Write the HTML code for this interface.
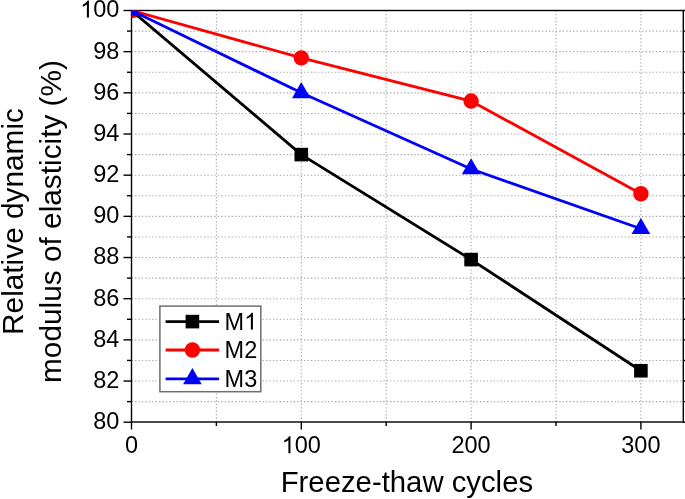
<!DOCTYPE html>
<html><head><meta charset="utf-8"><title>Chart</title>
<style>html,body{margin:0;padding:0;background:#fff;width:685px;height:499px;overflow:hidden}svg{display:block;will-change:transform}text{font-family:"Liberation Sans",sans-serif}</style>
</head><body>
<svg width="685" height="499" viewBox="0 0 685 499" font-family="'Liberation Sans', sans-serif" fill="#000">
<defs><clipPath id="pa"><rect x="131.5" y="10.5" width="551.8" height="411.5"/></clipPath></defs>
<rect width="685" height="499" fill="#fff"/>
<g stroke="#a6a6a6" stroke-width="1.1" stroke-dasharray="1.3 2.15"><line x1="216.40" y1="10.5" x2="216.40" y2="422.0"/><line x1="301.30" y1="10.5" x2="301.30" y2="422.0"/><line x1="386.20" y1="10.5" x2="386.20" y2="422.0"/><line x1="471.10" y1="10.5" x2="471.10" y2="422.0"/><line x1="556.00" y1="10.5" x2="556.00" y2="422.0"/><line x1="640.90" y1="10.5" x2="640.90" y2="422.0"/><line x1="131.5" y1="401.62" x2="683.3" y2="401.62"/><line x1="131.5" y1="381.03" x2="683.3" y2="381.03"/><line x1="131.5" y1="360.44" x2="683.3" y2="360.44"/><line x1="131.5" y1="339.86" x2="683.3" y2="339.86"/><line x1="131.5" y1="319.28" x2="683.3" y2="319.28"/><line x1="131.5" y1="298.69" x2="683.3" y2="298.69"/><line x1="131.5" y1="278.11" x2="683.3" y2="278.11"/><line x1="131.5" y1="257.52" x2="683.3" y2="257.52"/><line x1="131.5" y1="236.94" x2="683.3" y2="236.94"/><line x1="131.5" y1="216.35" x2="683.3" y2="216.35"/><line x1="131.5" y1="195.77" x2="683.3" y2="195.77"/><line x1="131.5" y1="175.18" x2="683.3" y2="175.18"/><line x1="131.5" y1="154.59" x2="683.3" y2="154.59"/><line x1="131.5" y1="134.01" x2="683.3" y2="134.01"/><line x1="131.5" y1="113.43" x2="683.3" y2="113.43"/><line x1="131.5" y1="92.84" x2="683.3" y2="92.84"/><line x1="131.5" y1="72.25" x2="683.3" y2="72.25"/><line x1="131.5" y1="51.67" x2="683.3" y2="51.67"/><line x1="131.5" y1="31.09" x2="683.3" y2="31.09"/></g><g stroke="#000" stroke-width="1.4" fill="none"><rect x="131.5" y="10.5" width="551.8" height="411.5" fill="none"/><line x1="123.5" y1="422.20" x2="131.5" y2="422.20"/><line x1="683.3" y1="422.20" x2="691.3" y2="422.20"/><line x1="127.0" y1="401.62" x2="131.5" y2="401.62"/><line x1="683.3" y1="401.62" x2="687.8" y2="401.62"/><line x1="123.5" y1="381.03" x2="131.5" y2="381.03"/><line x1="683.3" y1="381.03" x2="691.3" y2="381.03"/><line x1="127.0" y1="360.44" x2="131.5" y2="360.44"/><line x1="683.3" y1="360.44" x2="687.8" y2="360.44"/><line x1="123.5" y1="339.86" x2="131.5" y2="339.86"/><line x1="683.3" y1="339.86" x2="691.3" y2="339.86"/><line x1="127.0" y1="319.28" x2="131.5" y2="319.28"/><line x1="683.3" y1="319.28" x2="687.8" y2="319.28"/><line x1="123.5" y1="298.69" x2="131.5" y2="298.69"/><line x1="683.3" y1="298.69" x2="691.3" y2="298.69"/><line x1="127.0" y1="278.11" x2="131.5" y2="278.11"/><line x1="683.3" y1="278.11" x2="687.8" y2="278.11"/><line x1="123.5" y1="257.52" x2="131.5" y2="257.52"/><line x1="683.3" y1="257.52" x2="691.3" y2="257.52"/><line x1="127.0" y1="236.94" x2="131.5" y2="236.94"/><line x1="683.3" y1="236.94" x2="687.8" y2="236.94"/><line x1="123.5" y1="216.35" x2="131.5" y2="216.35"/><line x1="683.3" y1="216.35" x2="691.3" y2="216.35"/><line x1="127.0" y1="195.77" x2="131.5" y2="195.77"/><line x1="683.3" y1="195.77" x2="687.8" y2="195.77"/><line x1="123.5" y1="175.18" x2="131.5" y2="175.18"/><line x1="683.3" y1="175.18" x2="691.3" y2="175.18"/><line x1="127.0" y1="154.59" x2="131.5" y2="154.59"/><line x1="683.3" y1="154.59" x2="687.8" y2="154.59"/><line x1="123.5" y1="134.01" x2="131.5" y2="134.01"/><line x1="683.3" y1="134.01" x2="691.3" y2="134.01"/><line x1="127.0" y1="113.43" x2="131.5" y2="113.43"/><line x1="683.3" y1="113.43" x2="687.8" y2="113.43"/><line x1="123.5" y1="92.84" x2="131.5" y2="92.84"/><line x1="683.3" y1="92.84" x2="691.3" y2="92.84"/><line x1="127.0" y1="72.25" x2="131.5" y2="72.25"/><line x1="683.3" y1="72.25" x2="687.8" y2="72.25"/><line x1="123.5" y1="51.67" x2="131.5" y2="51.67"/><line x1="683.3" y1="51.67" x2="691.3" y2="51.67"/><line x1="127.0" y1="31.09" x2="131.5" y2="31.09"/><line x1="683.3" y1="31.09" x2="687.8" y2="31.09"/><line x1="123.5" y1="10.50" x2="131.5" y2="10.50"/><line x1="683.3" y1="10.50" x2="691.3" y2="10.50"/><line x1="131.50" y1="422.0" x2="131.50" y2="429.5"/><line x1="216.40" y1="422.0" x2="216.40" y2="426.0"/><line x1="301.30" y1="422.0" x2="301.30" y2="429.5"/><line x1="386.20" y1="422.0" x2="386.20" y2="426.0"/><line x1="471.10" y1="422.0" x2="471.10" y2="429.5"/><line x1="556.00" y1="422.0" x2="556.00" y2="426.0"/><line x1="640.90" y1="422.0" x2="640.90" y2="429.5"/></g><g clip-path="url(#pa)"><polyline points="131.50,10.50 301.30,154.59 471.10,259.58 640.90,370.74" fill="none" stroke="#000" stroke-width="2.8"/><polyline points="131.50,10.50 301.30,57.85 471.10,101.07 640.90,193.71" fill="none" stroke="#f00" stroke-width="2.8"/><polyline points="131.50,10.50 301.30,92.84 471.10,169.00 640.90,228.70" fill="none" stroke="#00f" stroke-width="2.8"/><rect x="124.70" y="3.70" width="13.6" height="13.6" fill="#000"/><rect x="294.50" y="147.79" width="13.6" height="13.6" fill="#000"/><rect x="464.30" y="252.78" width="13.6" height="13.6" fill="#000"/><rect x="634.10" y="363.94" width="13.6" height="13.6" fill="#000"/><circle cx="131.50" cy="10.50" r="7.7" fill="#f00"/><circle cx="301.30" cy="57.85" r="7.7" fill="#f00"/><circle cx="471.10" cy="101.07" r="7.7" fill="#f00"/><circle cx="640.90" cy="193.71" r="7.7" fill="#f00"/><polygon points="131.50,-0.23 140.80,15.87 122.20,15.87" fill="#00f"/><polygon points="301.30,82.11 310.60,98.21 292.00,98.21" fill="#00f"/><polygon points="471.10,158.27 480.40,174.37 461.80,174.37" fill="#00f"/><polygon points="640.90,217.97 650.20,234.07 631.60,234.07" fill="#00f"/></g><g font-size="23.5"><text x="119.4" y="429.10" text-anchor="end">80</text><text x="119.4" y="387.93" text-anchor="end">82</text><text x="119.4" y="346.76" text-anchor="end">84</text><text x="119.4" y="305.59" text-anchor="end">86</text><text x="119.4" y="264.42" text-anchor="end">88</text><text x="119.4" y="223.25" text-anchor="end">90</text><text x="119.4" y="182.08" text-anchor="end">92</text><text x="119.4" y="140.91" text-anchor="end">94</text><text x="119.4" y="99.74" text-anchor="end">96</text><text x="119.4" y="58.57" text-anchor="end">98</text><text x="119.4" y="17.40" text-anchor="end">00</text><path d="M763 0L583 0L583 1147Q518 1085 412.5 1023Q307 961 223 930L223 1104Q374 1175 487 1276Q600 1377 647 1472L763 1472Z" transform="translate(80.19,17.40) scale(0.01147,-0.01147)"/><text x="131.50" y="453.2" text-anchor="middle">0</text><text x="294.77" y="453.2">00</text><path d="M763 0L583 0L583 1147Q518 1085 412.5 1023Q307 961 223 930L223 1104Q374 1175 487 1276Q600 1377 647 1472L763 1472Z" transform="translate(281.70,453.20) scale(0.01147,-0.01147)"/><text x="471.10" y="453.2" text-anchor="middle">200</text><text x="640.90" y="453.2" text-anchor="middle">300</text></g><text x="406.90" y="491.6" font-size="29.3" text-anchor="middle">Freeze-thaw cycles</text><g font-size="29.8" text-anchor="middle" transform="translate(23.0,221.5) rotate(-90)"><text x="0" y="0">Relative dynamic</text><text x="0" y="37.8">modulus of elasticity (%)</text></g><rect x="159.9" y="306.1" width="100.9" height="85.6" fill="#fff" stroke="#6e6e6e" stroke-width="1.5"/><line x1="165.6" y1="321.6" x2="219.1" y2="321.6" stroke="#000" stroke-width="2.8"/><rect x="185.60" y="314.80" width="13.6" height="13.6" fill="#000"/><text x="224.6" y="329.60" font-size="23.5">M</text><path d="M763 0L583 0L583 1147Q518 1085 412.5 1023Q307 961 223 930L223 1104Q374 1175 487 1276Q600 1377 647 1472L763 1472Z" transform="translate(244.18,329.60) scale(0.01147,-0.01147)"/><line x1="165.6" y1="350" x2="219.1" y2="350" stroke="#f00" stroke-width="2.8"/><circle cx="192.4" cy="350" r="7.7" fill="#f00"/><text x="224.6" y="358.00" font-size="23.5">M2</text><line x1="165.6" y1="378.8" x2="219.1" y2="378.8" stroke="#00f" stroke-width="2.8"/><polygon points="192.40,368.07 201.70,384.17 183.10,384.17" fill="#00f"/><text x="224.6" y="386.80" font-size="23.5">M3</text>
</svg>
</body></html>
